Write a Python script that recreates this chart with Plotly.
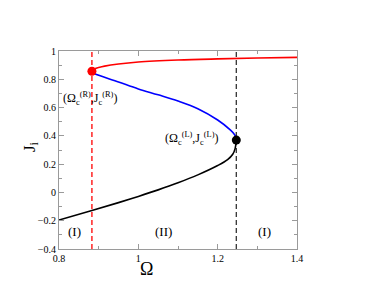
import plotly.graph_objects as go

# Critical points
omega_R, j_R = 0.883, 0.857
omega_L, j_L = 1.247, 0.370

# Lower (black) branch
omega_lower = [0.80, 0.883, 0.95, 1.00, 1.05, 1.10, 1.15, 1.20, 1.225, 1.238, 1.244, 1.247]
j_lower = [-0.195, -0.128, -0.072, -0.028, 0.018, 0.068, 0.124, 0.190, 0.232, 0.270, 0.310, 0.370]

# Middle (blue) branch
omega_mid = [0.883, 0.885, 0.890, 0.95, 1.00, 1.05, 1.10, 1.15, 1.20, 1.231, 1.2435, 1.247]
j_mid = [0.857, 0.848, 0.839, 0.781, 0.732, 0.690, 0.646, 0.592, 0.512, 0.444, 0.405, 0.370]

# Upper (red) branch
omega_up = [0.883, 0.885, 0.890, 0.90, 0.915, 0.95, 1.00, 1.10, 1.20, 1.30, 1.40]
j_up = [0.857, 0.866, 0.874, 0.883, 0.893, 0.908, 0.922, 0.936, 0.944, 0.950, 0.955]

x_range = [0.8, 1.4]
y_range = [-0.4, 1.0]

SERIF = "Liberation Serif, Times New Roman, serif"

fig = go.Figure()

fig.add_trace(go.Scatter(x=[omega_R, omega_R], y=y_range, mode="lines",
                         line=dict(color="#ff0000", width=1.3, dash="5px,3px"),
                         showlegend=False, hoverinfo="skip"))
fig.add_trace(go.Scatter(x=[omega_L, omega_L], y=y_range, mode="lines",
                         line=dict(color="#333333", width=1.3, dash="5px,3px"),
                         showlegend=False, hoverinfo="skip"))

fig.add_trace(go.Scatter(x=omega_lower, y=j_lower, mode="lines",
                         line=dict(color="black", width=1.6, shape="spline"),
                         showlegend=False))
fig.add_trace(go.Scatter(x=omega_mid, y=j_mid, mode="lines",
                         line=dict(color="#0000ff", width=1.6, shape="spline"),
                         showlegend=False))
fig.add_trace(go.Scatter(x=omega_up, y=j_up, mode="lines",
                         line=dict(color="#ff0000", width=1.6, shape="spline"),
                         showlegend=False))

fig.add_trace(go.Scatter(x=[omega_R], y=[j_R], mode="markers",
                         marker=dict(color="#ff0000", size=9), showlegend=False))
fig.add_trace(go.Scatter(x=[omega_L], y=[j_L], mode="markers",
                         marker=dict(color="black", size=9), showlegend=False))


def px(xd):
    return (xd - x_range[0]) / (x_range[1] - x_range[0])


def py(yd):
    return (yd - y_range[0]) / (y_range[1] - y_range[0])


annotations = [
    dict(x=px(0.877), y=py(0.664), text="(Ω<sub>c</sub><sup>(R)</sup>,J<sub>c</sub><sup>(R)</sup>)",
         font=dict(size=12)),
    dict(x=px(1.135), y=py(0.380), text="(Ω<sub>c</sub><sup>(L)</sup>,J<sub>c</sub><sup>(L)</sup>)",
         font=dict(size=12)),
    dict(x=px(0.840), y=py(-0.279), text="(I)", font=dict(size=13)),
    dict(x=px(1.064), y=py(-0.279), text="(II)", font=dict(size=13)),
    dict(x=px(1.319), y=py(-0.279), text="(I)", font=dict(size=13)),
    dict(x=px(1.021), y=py(-0.540), text="Ω", font=dict(size=18)),
    dict(x=px(0.728), y=py(0.324), text="J<sub>i</sub>", font=dict(size=17), textangle=-90),
]
for a in annotations:
    a.update(xref="paper", yref="paper", showarrow=False, xanchor="center", yanchor="middle")
    a["font"] = dict(family=SERIF, color="black", **a["font"])

axis_common = dict(
    showline=True, linecolor="#9a9a9a", linewidth=1, mirror="ticks",
    ticks="inside", ticklen=5, tickcolor="#9a9a9a", tickwidth=1,
    showgrid=False, zeroline=False, dtick=0.2,
    tickfont=dict(family=SERIF, size=10, color="black"),
    minor=dict(ticks="inside", ticklen=3, tickcolor="#9a9a9a", dtick=0.1, showgrid=False),
)

fig.update_layout(
    width=381, height=293,
    margin=dict(l=51, r=92, t=43, b=52),
    paper_bgcolor="white", plot_bgcolor="white",
    xaxis=dict(range=x_range, tick0=0.8, **axis_common),
    yaxis=dict(range=y_range, tick0=-0.4, **axis_common),
    annotations=annotations,
    showlegend=False,
)

fig.write_html("out.html")
